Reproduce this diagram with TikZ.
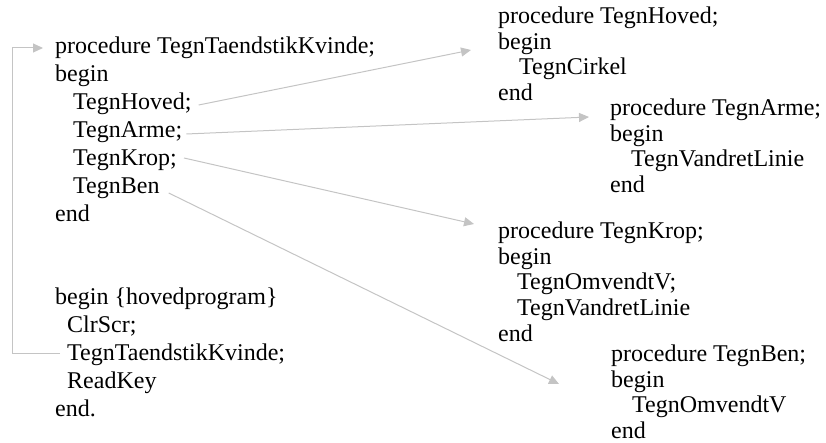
\documentclass[tikz,border=0pt]{standalone}
\usepackage{fontspec}
\setmainfont{Liberation Serif}
\usetikzlibrary{arrows.meta}
\definecolor{callgray}{RGB}{196,196,196}
\tikzset{
  code/.style={anchor=base west, inner sep=0pt, font=\fontsize{24}{28}\selectfont},
  call/.style={draw=callgray, line width=1pt, -{Triangle[length=10pt,width=9pt]}},
}
\begin{document}
\begin{tikzpicture}[x=1pt, y=-1pt]
\useasboundingbox (0,0) rectangle (826,443);

% main procedure
\node[code] (p1) at (55,54)  {procedure TegnTaendstikKvinde;};
\node[code] (p2) at (55,82)  {begin};
\node[code] (p3) at (73,110) {TegnHoved;};
\node[code] (p4) at (73,138) {TegnArme;};
\node[code] (p5) at (73,166) {TegnKrop;};
\node[code] (p6) at (73,194) {TegnBen};
\node[code] (p7) at (55,222) {end};

% main program
\node[code] (m1) at (55,304) {begin \{hovedprogram\}};
\node[code] (m2) at (67,332) {ClrScr;};
\node[code] (m3) at (67,360) {TegnTaendstikKvinde;};
\node[code] (m4) at (67,388) {ReadKey};
\node[code] (m5) at (55,416) {end.};

% TegnHoved
\node[code] (h1) at (498,24)    {procedure TegnHoved;};
\node[code] (h2) at (498,49.5)  {begin};
\node[code] (h3) at (519,75)    {TegnCirkel};
\node[code] (h4) at (498,100.5) {end};

% TegnArme
\node[code] (a1) at (610,116)   {procedure TegnArme;};
\node[code] (a2) at (610,141.5) {begin};
\node[code] (a3) at (631,167)   {TegnVandretLinie};
\node[code] (a4) at (610,192.5) {end};

% TegnKrop
\node[code] (k1) at (498,239)   {procedure TegnKrop;};
\node[code] (k2) at (498,264.5) {begin};
\node[code] (k3) at (517,290)   {TegnOmvendtV;};
\node[code] (k4) at (517,315.5) {TegnVandretLinie};
\node[code] (k5) at (498,341)   {end};

% TegnBen
\node[code] (b1) at (611,361.5) {procedure TegnBen;};
\node[code] (b2) at (611,387)   {begin};
\node[code] (b3) at (632,412.5) {TegnOmvendtV};
\node[code] (b4) at (611,438)   {end};

% arrival points of the calls
\coordinate (inHoved) at (471,50);
\coordinate (inArme)  at (589,117);
\coordinate (inKrop)  at (474,224);
\coordinate (inBen)   at (559,384);
\coordinate (loopIn)  at ([shift={(-12,-6)}]p1.base west);
\coordinate (loopX)   at (12,0);

% calls
\draw[call] ([shift={(7,-5)}]p3.base east) -- (inHoved);
\draw[call] ([shift={(4,-4)}]p4.base east) -- (inArme);
\draw[call] ([shift={(7,-8)}]p5.base east) -- (inKrop);
\draw[call] ([shift={(9,-1)}]p6.base east) -- (inBen);
\draw[call] ([shift={(-7,-7)}]m3.base west) -| (loopX |- loopIn) -- (loopIn);
\end{tikzpicture}
\end{document}
